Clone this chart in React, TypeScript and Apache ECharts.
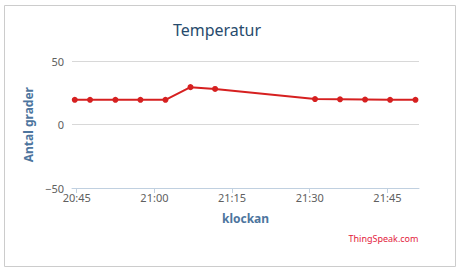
import React, { useEffect, useRef } from "react";
import * as echarts from "echarts";

const titleText = "Temperatur";
const yAxisTitle = "Antal grader";
const xAxisTitle = "klockan";
const creditText = "ThingSpeak.com";

const times = [
  "20:44:37", "20:47:34", "20:52:28", "20:57:18", "21:02:08", "21:06:58",
  "21:11:43", "21:31:01", "21:35:51", "21:40:41", "21:45:31", "21:50:25",
];
const temps = [19.6, 19.6, 19.6, 19.6, 19.6, 29.6, 28.2, 20.2, 20.0, 19.8, 19.6, 19.6];

const xMinTime = "20:44:05";
const xMaxTime = "21:51:06";
const xTickTimes = ["20:45", "21:00", "21:15", "21:30", "21:45"];
const yMin = -50;
const yMax = 50;
const yStep = 50;

const toMinutes = (s: string) => {
  const p = s.split(":").map(Number);
  return p[0] * 60 + p[1] + (p[2] || 0) / 60;
};
const fmt = (m: number) => {
  const h = Math.floor(m / 60);
  const mm = Math.round(m - h * 60);
  return `${h}:${mm < 10 ? "0" : ""}${mm}`;
};

const FONT = "'Noto Sans', 'DejaVu Sans', sans-serif";

export default function App() {
  const ref = useRef<HTMLDivElement>(null);
  useEffect(() => {
    if (!ref.current) return;
    const chart = echarts.init(ref.current, undefined, { renderer: "svg" });
    const tickVals = xTickTimes.map(toMinutes);
    chart.setOption({
      animation: false,
      backgroundColor: "#fff",
      textStyle: { fontFamily: FONT },
      grid: { left: 72, right: 42, top: 61.3, bottom: 84, containLabel: false },
      xAxis: {
        type: "value",
        min: toMinutes(xMinTime),
        max: toMinutes(xMaxTime),
        name: xAxisTitle,
        nameLocation: "middle",
        nameGap: 24,
        nameTextStyle: { color: "#4d759e", fontWeight: "bold", fontSize: 12, fontFamily: FONT },
        axisLine: { show: true, onZero: false, lineStyle: { color: "#C0D0E0", width: 1 } },
        axisTick: { show: true, length: 5, lineStyle: { color: "#C0D0E0" }, customValues: tickVals },
        axisLabel: {
          color: "#606060",
          fontSize: 11,
          fontFamily: FONT,
          margin: 4,
          customValues: tickVals,
          formatter: (v: number) => fmt(v),
        },
        splitLine: { show: false },
      },
      yAxis: {
        type: "value",
        min: yMin,
        max: yMax,
        interval: yStep,
        name: yAxisTitle,
        nameLocation: "middle",
        nameGap: 36,
        nameTextStyle: { color: "#4d759e", fontWeight: "bold", fontSize: 12, fontFamily: FONT },
        axisLine: { show: false },
        axisTick: { show: false },
        axisLabel: {
          color: "#606060",
          fontSize: 11,
          fontFamily: FONT,
          margin: 8,
          formatter: (v: number) => String(v).replace("-", "\u2212"),
        },
        splitLine: { show: true, lineStyle: { color: "#d8d8d8", width: 1 } },
      },
      series: [
        {
          type: "line",
          data: times.map((t, i) => [toMinutes(t), temps[i]]),
          symbol: "circle",
          symbolSize: 6,
          showSymbol: true,
          lineStyle: { color: "#d62020", width: 2 },
          itemStyle: { color: "#d62020" },
          z: 5,
        },
      ],
      graphic: [
        {
          type: "rect",
          shape: { x: 4.5, y: 5.5, width: 451, height: 261 },
          style: { fill: "none", stroke: "#cccccc", lineWidth: 1 },
          silent: true,
        },
        {
          type: "text",
          x: 217,
          y: 30,
          style: {
            text: titleText,
            fill: "#274b6d",
            font: `16px ${FONT}`,
            textAlign: "center",
            textVerticalAlign: "middle",
          },
        },
        {
          type: "text",
          x: 418.5,
          y: 238,
          style: {
            text: creditText,
            fill: "#e31b3c",
            font: `9px ${FONT}`,
            textAlign: "right",
            textVerticalAlign: "middle",
          },
        },
      ],
    });
    return () => chart.dispose();
  }, []);
  return (
    <div
      ref={ref}
      style={{ position: "fixed", left: 0, top: 0, width: 461, height: 272, background: "#fff" }}
    />
  );
}
